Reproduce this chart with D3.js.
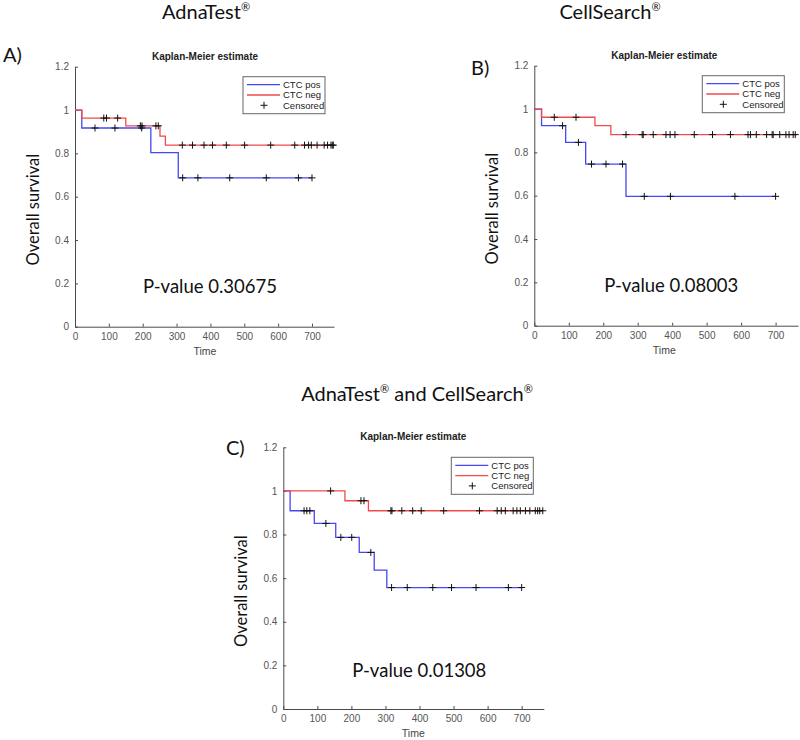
<!DOCTYPE html>
<html>
<head>
<meta charset="utf-8">
<script src="https://cdn.jsdelivr.net/npm/d3@7"></script>
<style>
  html, body { margin: 0; padding: 0; background: #fff; }
  svg { display: block; }
</style>
</head>
<body>
<svg id="chart" width="800" height="740"></svg>
<script>
// ---------- data ----------
const timeTicks = [0, 100, 200, 300, 400, 500, 600, 700];
const survTicks = [0, 0.2, 0.4, 0.6, 0.8, 1, 1.2];
const timeDomain = [0, 765];
const survDomain = [0, 1.2];
const seriesNames = ["CTC pos", "CTC neg", "Censored"];
const panelLetters = ["A)", "B)", "C)"];
const panelHeaders = ["AdnaTest", "CellSearch", "AdnaTest and CellSearch"];
const pValues = ["P-value 0.30675", "P-value 0.08003", "P-value 0.01308"];

// Panel A (AdnaTest)
const aPosTimes = [0, 20, 224, 305];
const aPosSurv  = [1, 0.917, 0.803, 0.687];
const aPosEnd   = 700;
const aPosCens  = [59, 118, 197, 318, 363, 457, 565, 660, 700];
const aNegTimes = [0, 20, 150, 251, 267];
const aNegSurv  = [1, 0.963, 0.927, 0.88, 0.838];
const aNegEnd   = 763;
const aNegCens  = [85, 93, 126, 193, 198, 239, 246, 317, 347, 381, 406, 447, 501, 578, 649, 678, 690, 698, 715, 736, 746, 756, 760, 763];

// Panel B (CellSearch)
const bPosTimes = [0, 21, 91, 149, 266];
const bPosSurv  = [1, 0.923, 0.846, 0.746, 0.597];
const bPosEnd   = 700;
const bPosCens  = [82, 128, 166, 208, 256, 319, 395, 582, 700];
const bNegTimes = [0, 21, 176, 222];
const bNegSurv  = [1, 0.962, 0.923, 0.882];
const bNegEnd   = 761;
const bNegCens  = [58, 121, 266, 313, 316, 345, 382, 394, 408, 464, 517, 569, 620, 627, 644, 674, 690, 693, 712, 730, 739, 751, 757];

// Panel C (AdnaTest and CellSearch)
const cPosTimes = [0, 20, 91, 154, 223, 267, 304];
const cPosSurv  = [1, 0.909, 0.851, 0.787, 0.718, 0.637, 0.557];
const cPosEnd   = 700;
const cPosCens  = [61, 69, 78, 125, 169, 201, 257, 318, 364, 439, 494, 566, 661, 700];
const cNegTimes = [0, 181, 250];
const cNegSurv  = [1, 0.955, 0.909];
const cNegEnd   = 762;
const cNegCens  = [139, 228, 237, 316, 319, 348, 380, 405, 471, 576, 628, 640, 652, 675, 686, 696, 711, 724, 740, 747, 753, 762];

// ---------- layout ----------
const panels = [
  { left: 75,    right: 334,   top: 66.7,  bottom: 326.7,
    pos: [aPosTimes, aPosSurv, aPosEnd, aPosCens], neg: [aNegTimes, aNegSurv, aNegEnd, aNegCens],
    letter: panelLetters[0], letterX: 3, letterY: 62, p: pValues[0], pdx: 68, pdy: -34 },
  { left: 534.3, right: 798,   top: 65.7,  bottom: 325.7,
    pos: [bPosTimes, bPosSurv, bPosEnd, bPosCens], neg: [bNegTimes, bNegSurv, bNegEnd, bNegCens],
    letter: panelLetters[1], letterX: 471, letterY: 75, p: pValues[1], pdx: 70, pdy: -34 },
  { left: 283.3, right: 543.8, top: 447.3, bottom: 709,
    pos: [cPosTimes, cPosSurv, cPosEnd, cPosCens], neg: [cNegTimes, cNegSurv, cNegEnd, cNegCens],
    letter: panelLetters[2], letterX: 226, letterY: 455, p: pValues[2], pdx: 69, pdy: -32 }
];

const POS_COLOR = "#4747f5";
const NEG_COLOR = "#f24a4a";
const AXIS_COLOR = "#4a4a4a";
const MFONT = "'Liberation Sans', Arial, sans-serif";
const CFONT = "Lato, 'Open Sans', sans-serif";

const svg = d3.select("#chart");

// headers
function header(textMain, x, y, anchor) {
  const t = svg.append("text")
    .attr("x", x).attr("y", y)
    .attr("text-anchor", anchor)
    .attr("font-family", CFONT).attr("font-size", 20).attr("fill", "#111");
  return t;
}
{
  const h1 = header("", 206, 19, "middle");
  h1.append("tspan").text(panelHeaders[0]);
  h1.append("tspan").attr("font-size", 11).attr("dy", -8).text("®");
  const h2 = header("", 610, 19, "middle");
  h2.append("tspan").text(panelHeaders[1]);
  h2.append("tspan").attr("font-size", 11).attr("dy", -8).text("®");
  const h3 = header("", 417, 401, "middle");
  const parts = panelHeaders[2].split(" and ");
  h3.append("tspan").text(parts[0]);
  h3.append("tspan").attr("font-size", 11).attr("dy", -8).text("®");
  h3.append("tspan").attr("dy", 8).text(" and " + parts[1]);
  h3.append("tspan").attr("font-size", 11).attr("dy", -8).text("®");
}

panels.forEach(p => {
  const x = d3.scaleLinear().domain(timeDomain).range([p.left, p.right]);
  const y = d3.scaleLinear().domain(survDomain).range([p.bottom, p.top]);
  const g = svg.append("g");

  // axes
  const xAxis = d3.axisBottom(x).tickValues(timeTicks).tickSizeInner(-3).tickSizeOuter(0).tickPadding(6)
    .tickFormat(d3.format("d"));
  const yAxis = d3.axisLeft(y).tickValues(survTicks).tickSizeInner(-3).tickSizeOuter(0).tickPadding(6)
    .tickFormat(d => d3.format("~g")(d));
  const gx = g.append("g").attr("transform", `translate(0,${p.bottom})`).call(xAxis);
  const gy = g.append("g").attr("transform", `translate(${p.left},0)`).call(yAxis);
  [gx, gy].forEach(ax => {
    ax.select(".domain").attr("stroke", AXIS_COLOR).attr("stroke-width", 1);
    ax.selectAll(".tick line").attr("stroke", AXIS_COLOR);
    ax.selectAll(".tick text").attr("fill", "#555").attr("font-family", MFONT).attr("font-size", 10);
  });

  // title
  g.append("text").attr("x", p.left + 130).attr("y", p.top - 7)
    .attr("text-anchor", "middle").attr("font-family", MFONT).attr("font-size", 10)
    .attr("font-weight", "bold").attr("fill", "#222").text("Kaplan-Meier estimate");
  // x label
  g.append("text").attr("x", p.left + 130).attr("y", p.bottom + 28)
    .attr("text-anchor", "middle").attr("font-family", MFONT).attr("font-size", 10.5)
    .attr("fill", "#444").text("Time");
  // y label
  const ycx = p.left - 42, ycy = (p.top + p.bottom) / 2 + 13;
  g.append("text").attr("transform", `translate(${ycx + 6},${ycy}) rotate(-90)`)
    .attr("text-anchor", "middle").attr("font-family", CFONT).attr("font-size", 16.5)
    .attr("fill", "#111").text("Overall survival");
  // panel letter
  svg.append("text").attr("x", p.letterX).attr("y", p.letterY)
    .attr("font-family", CFONT).attr("font-size", 20).attr("fill", "#111").text(p.letter);
  // p-value
  g.append("text").attr("x", p.left + p.pdx).attr("y", p.bottom + p.pdy)
    .attr("font-family", CFONT).attr("font-size", 18.5).attr("fill", "#111").text(p.p);

  // curves
  const line = d3.line().x(d => x(d[0])).y(d => y(d[1])).curve(d3.curveStepAfter);
  function drawSeries(s, color) {
    const [times, surv, end, cens] = s;
    const pts = times.map((t, i) => [t, surv[i]]);
    pts.push([end, surv[surv.length - 1]]);
    g.append("path").datum(pts).attr("d", line).attr("fill", "none")
      .attr("stroke", color).attr("stroke-width", 1.3);
    const survAt = t => {
      let v = surv[0];
      times.forEach((tt, i) => { if (tt <= t) v = surv[i]; });
      return v;
    };
    const cg = g.append("g").attr("stroke", "#111").attr("stroke-width", 1);
    cens.forEach(t => {
      const cx = x(t), cy = y(survAt(t));
      cg.append("line").attr("x1", cx - 3.5).attr("x2", cx + 3.5).attr("y1", cy).attr("y2", cy);
      cg.append("line").attr("x1", cx).attr("x2", cx).attr("y1", cy - 3.5).attr("y2", cy + 3.5);
    });
  }
  drawSeries(p.pos, POS_COLOR);
  drawSeries(p.neg, NEG_COLOR);

  // legend
  const lx = p.left + 168, ly = p.top + 10;
  const lg = g.append("g").attr("transform", `translate(${lx},${ly})`);
  lg.append("rect").attr("width", 82).attr("height", 37).attr("fill", "#fff")
    .attr("stroke", "#666").attr("stroke-width", 1);
  const rows = [8, 18.3, 28.6];
  [POS_COLOR, NEG_COLOR].forEach((c, i) => {
    lg.append("line").attr("x1", 4).attr("x2", 37).attr("y1", rows[i]).attr("y2", rows[i])
      .attr("stroke", c).attr("stroke-width", 1.3);
  });
  lg.append("line").attr("x1", 17.5).attr("x2", 24.5).attr("y1", rows[2]).attr("y2", rows[2]).attr("stroke", "#111");
  lg.append("line").attr("x1", 21).attr("x2", 21).attr("y1", rows[2] - 3.5).attr("y2", rows[2] + 3.5).attr("stroke", "#111");
  seriesNames.forEach((n, i) => {
    lg.append("text").attr("x", 40).attr("y", rows[i] + 3.3)
      .attr("font-family", MFONT).attr("font-size", 9.5).attr("fill", "#222").text(n);
  });
});
</script>
</body>
</html>
